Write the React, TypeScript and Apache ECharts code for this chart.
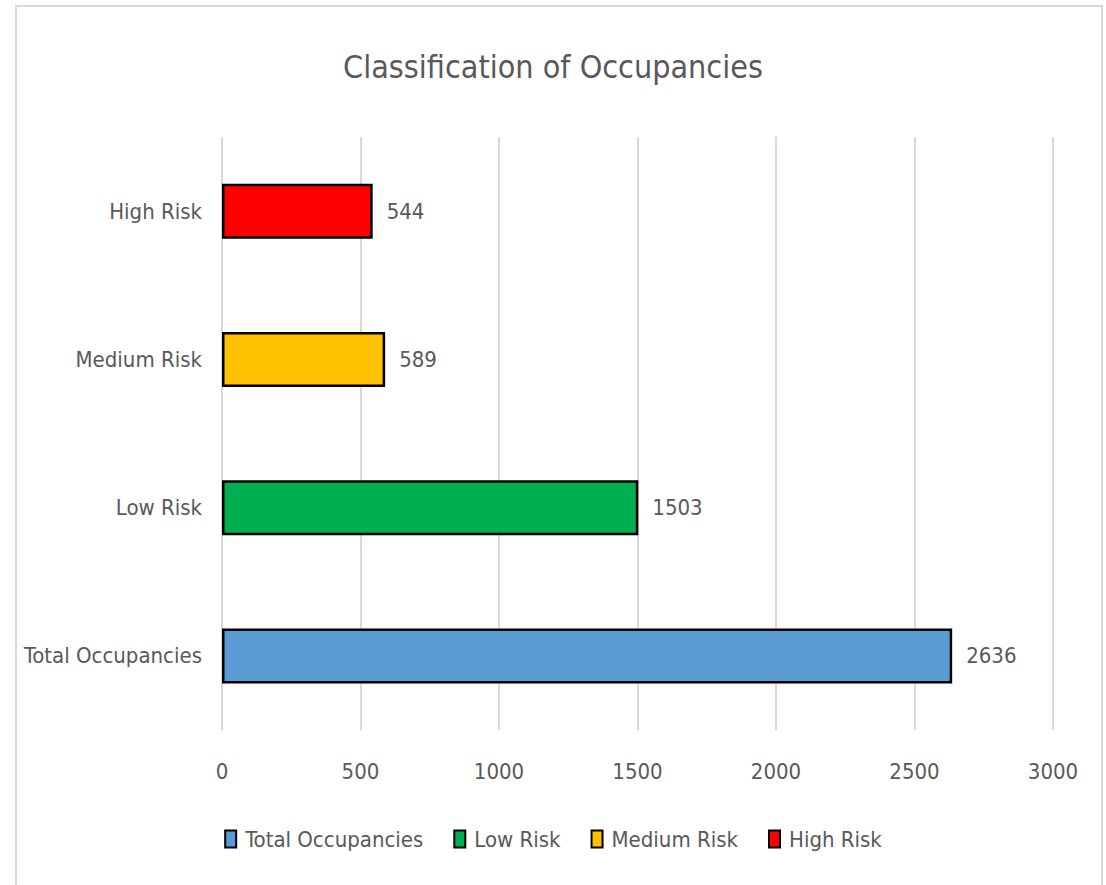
import React, { useEffect, useRef } from "react";
import * as echarts from "echarts";

const categories = ["Total Occupancies", "Low Risk", "Medium Risk", "High Risk"];
const values = [2636, 1503, 589, 544];
const colors = ["#5B9BD5", "#00B050", "#FFC000", "#FF0000"];
const xTicks = [0, 500, 1000, 1500, 2000, 2500, 3000];
const title = "Classification of Occupancies";

const FONT = "'Liberation Sans Narrow', 'DejaVu Sans Condensed', 'Open Sans', sans-serif";

export default function App() {
  const ref = useRef<HTMLDivElement>(null);
  useEffect(() => {
    if (!ref.current) return;
    const chart = echarts.init(ref.current, null, { renderer: "svg" });
    const series = categories.map((name, i) => ({
      name,
      type: "bar",
      stack: "all",
      barWidth: 55,
      data: categories.map((_, j) => (j === i ? values[i] : null)),
      itemStyle: { color: colors[i], borderColor: "#000000", borderWidth: 2.5 },
      label: {
        show: true,
        position: "right",
        distance: 14,
        color: "#595959",
        fontSize: 22,
        fontFamily: FONT,
      },
    }));
    chart.setOption({
      animation: false,
      backgroundColor: "#ffffff",
      title: {
        text: title,
        left: "center",
        top: 46,
        textStyle: { color: "#595959", fontSize: 32, fontWeight: "normal", fontFamily: FONT },
      },
      graphic: [
        {
          type: "rect",
          shape: { x: 16, y: 6, width: 1086, height: 900 },
          style: { fill: "none", stroke: "#d9d9d9", lineWidth: 2 },
          silent: true,
        },
      ],
      legend: {
        bottom: 30,
        left: "center",
        itemWidth: 11,
        itemHeight: 17,
        itemGap: 30,
        icon: "rect",
        data: categories.map((c, i) => ({
          name: c,
          itemStyle: { color: colors[i], borderColor: "#000", borderWidth: 2 },
        })),
        textStyle: { color: "#595959", fontSize: 22, fontFamily: FONT, padding: [0, 0, 0, 4] },
      },
      grid: { left: 222, right: 53, top: 137, bottom: 155, containLabel: false },
      xAxis: {
        type: "value",
        min: xTicks[0],
        max: xTicks[xTicks.length - 1],
        interval: 500,
        axisLine: { show: false },
        axisTick: { show: false },
        splitLine: { lineStyle: { color: "#d9d9d9", width: 2 } },
        axisLabel: {
          color: "#595959",
          fontSize: 22,
          fontFamily: FONT,
          margin: 30,
          formatter: (v: number) => String(v),
        },
      },
      yAxis: {
        type: "category",
        data: categories,
        axisLine: { show: false },
        axisTick: { show: false },
        axisLabel: { color: "#595959", fontSize: 22, fontFamily: FONT, margin: 20 },
      },
      series,
    });
    return () => chart.dispose();
  }, []);
  return (
    <div
      ref={ref}
      style={{ position: "fixed", left: 0, top: 0, width: 1106, height: 885 }}
    />
  );
}
